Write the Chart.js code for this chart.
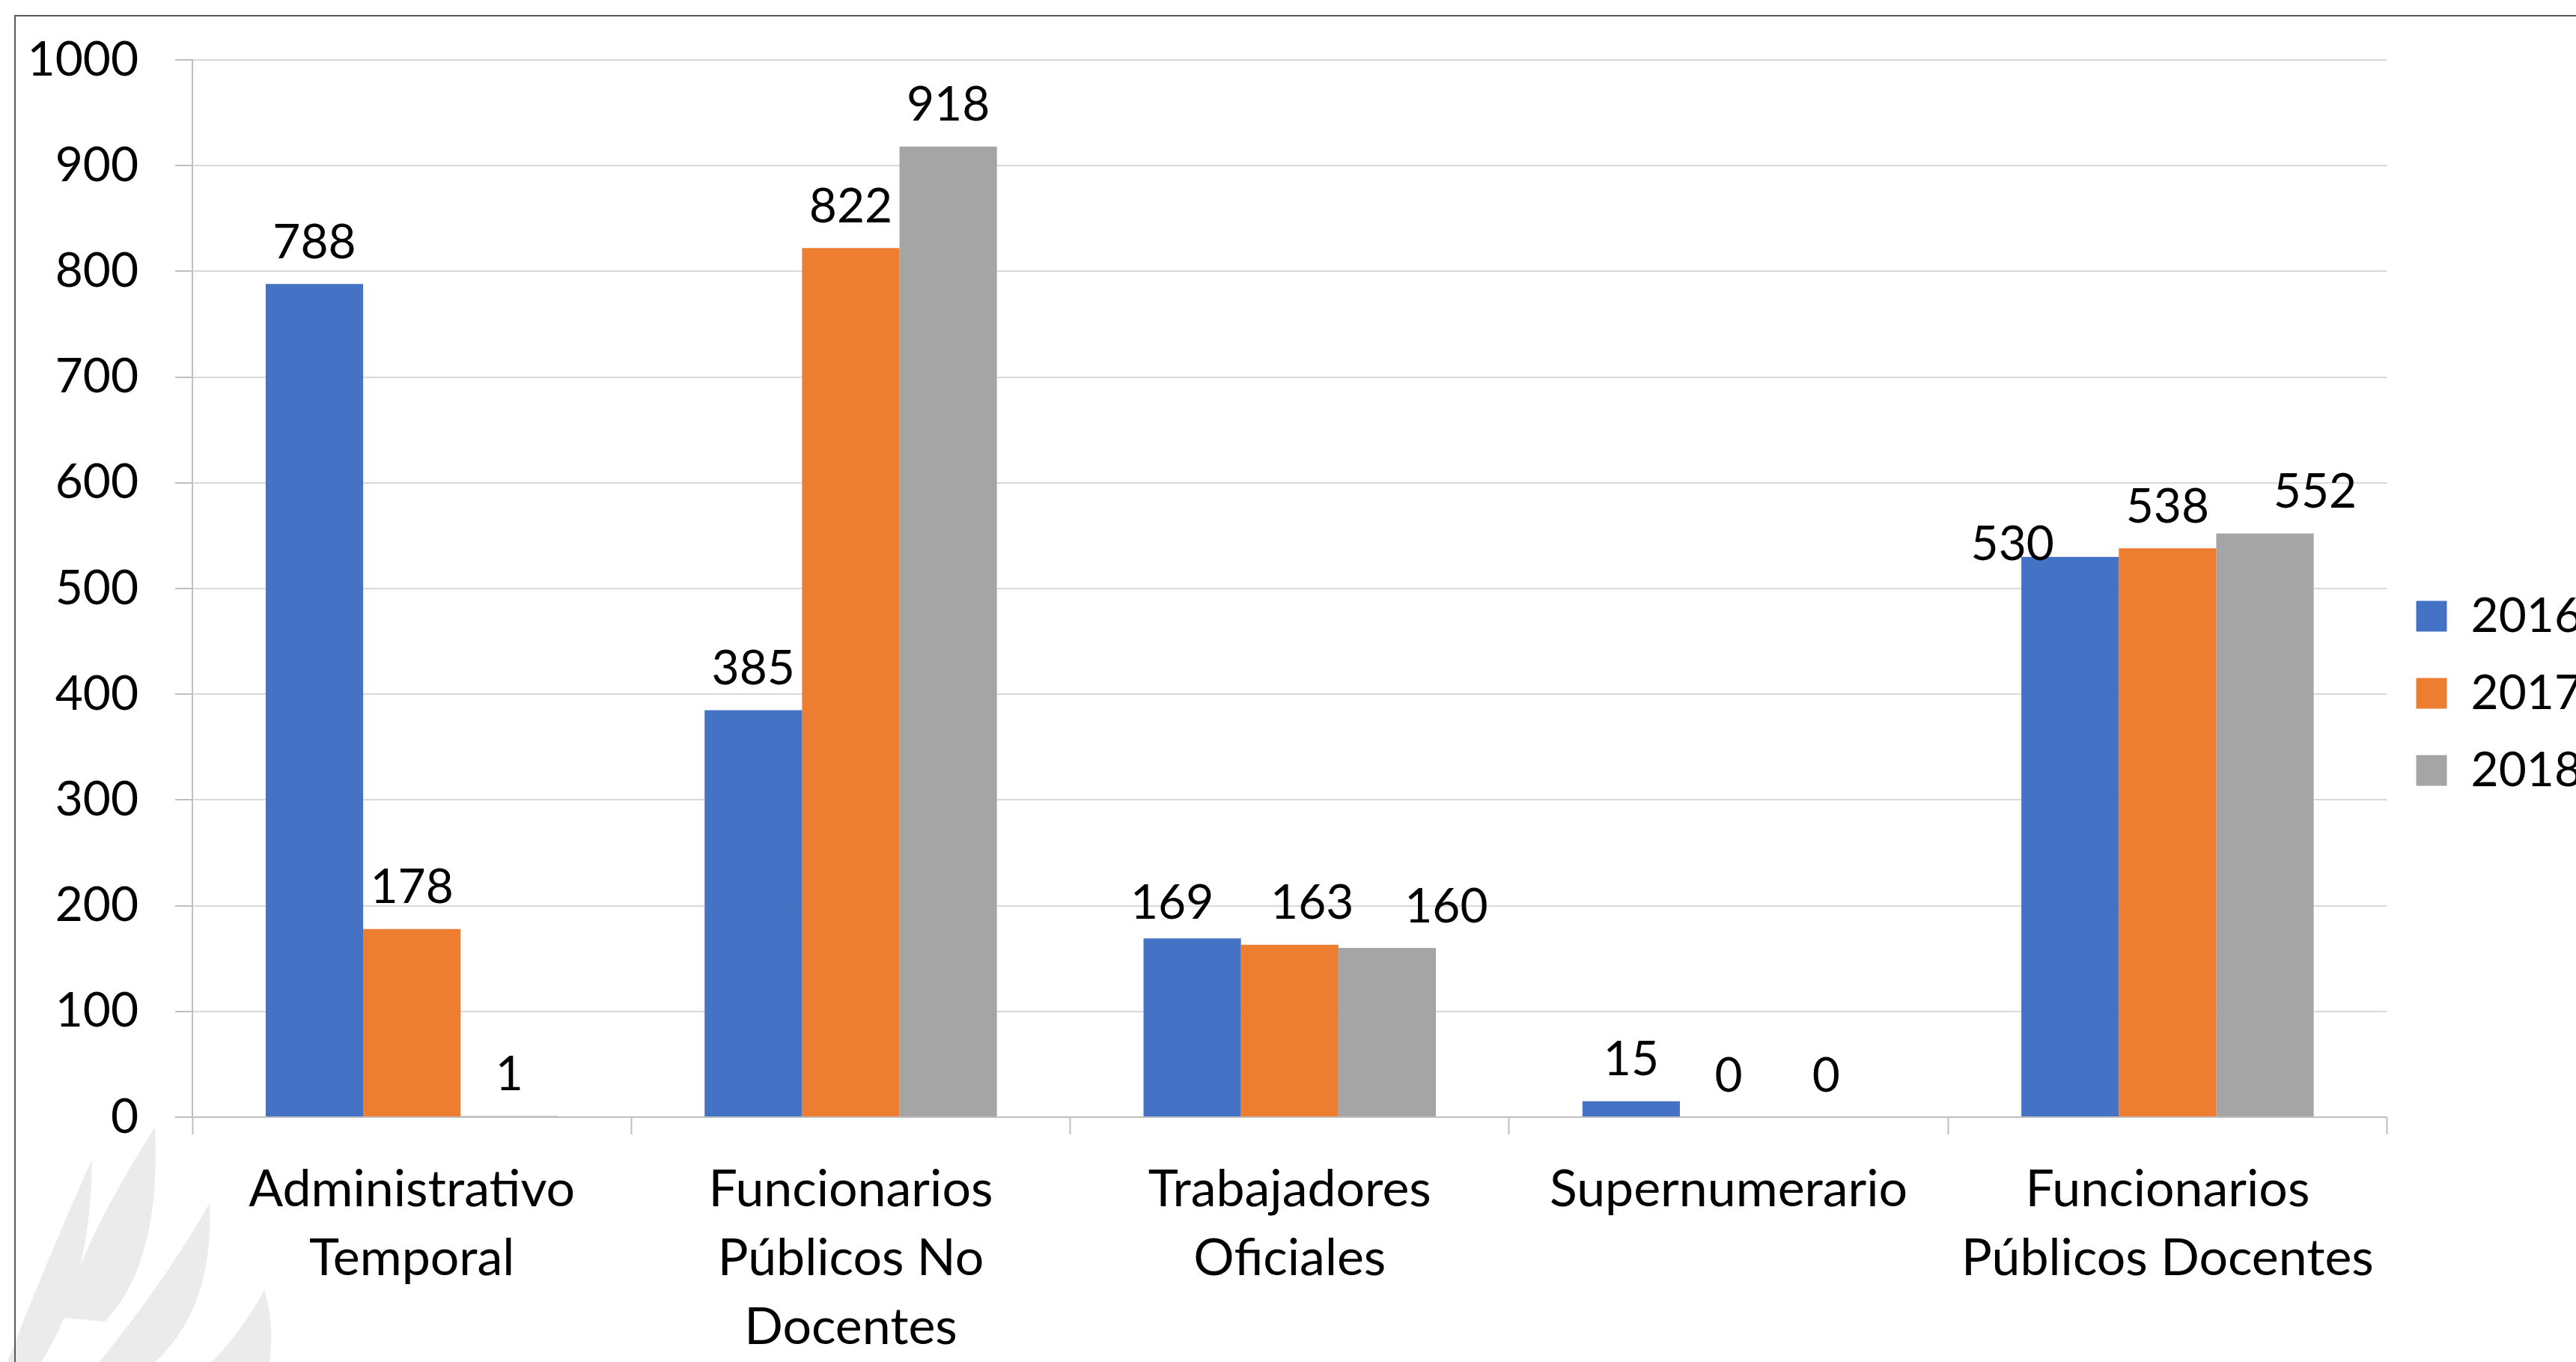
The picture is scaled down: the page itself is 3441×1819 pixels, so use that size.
<!DOCTYPE html>
<html>
<head>
<meta charset="utf-8">
<title>Vinculación por tipo</title>
<script src="https://cdn.jsdelivr.net/npm/chart.js@4.4.1/dist/chart.umd.min.js"></script>
<style>
  html, body { margin: 0; padding: 0; background: #fff; overflow: hidden; }
  #wrap { position: relative; width: 3441px; height: 1819px; overflow: hidden; }
  #chart { position: absolute; left: 0; top: 0; }
</style>
</head>
<body>
<div id="wrap"><canvas id="chart"></canvas></div>
<script>
var categories = [
    ['Administrativo', 'Temporal'],
    ['Funcionarios', 'Públicos No', 'Docentes'],
    ['Trabajadores', 'Oficiales'],
    ['Supernumerario'],
    ['Funcionarios', 'Públicos Docentes']
];
var years = ['2016', '2017', '2018'];
var values2016 = [788, 385, 169, 15, 530];
var values2017 = [178, 822, 163, 0, 538];
var values2018 = [1, 918, 160, 0, 552];
var yMin = 0;
var yMax = 1000;
var yStep = 100;

var FONT = 'Lato';
var FONT_SIZE = 64;
var LABEL_SIZE = 68;
var LEGEND_PAD = 39;
var BOX = 41;

// canvas is a bit wider than the page so the legend runs off the right edge
var measure = document.createElement('canvas').getContext('2d');
measure.font = FONT_SIZE + 'px ' + FONT;
var legendWidth = LEGEND_PAD + BOX + FONT_SIZE / 2 + measure.measureText('2016').width + 10;
var W = Math.round(3189 + legendWidth);
var H = 1852;

var canvas = document.getElementById('chart');
canvas.width = W;
canvas.height = H;

// faint flame logo in the lower-left corner and the frame lines
var backdrop = {
    id: 'backdrop',
    beforeDraw: function (chart) {
        var ctx = chart.ctx;
        var flames = [
            [[10, 1819], [57, 1696], [123, 1548], [121, 1716], [55, 1819]],
            [[85, 1760], [104, 1668], [207, 1505], [216, 1685], [140, 1765]],
            [[133, 1819], [223, 1707], [280, 1607], [286, 1747], [207, 1819]],
            [[283, 1819], [322, 1779], [353, 1723], [367, 1769], [360, 1819]]
        ];
        ctx.save();
        ctx.fillStyle = '#ebebeb';
        flames.forEach(function (f) {
            ctx.beginPath();
            ctx.moveTo(f[0][0], f[0][1]);
            ctx.quadraticCurveTo(f[1][0], f[1][1], f[2][0], f[2][1]);
            ctx.quadraticCurveTo(f[3][0], f[3][1], f[4][0], f[4][1]);
            ctx.closePath();
            ctx.fill();
        });
        ctx.strokeStyle = '#595959';
        ctx.lineWidth = 2;
        ctx.beginPath();
        ctx.moveTo(20, H);
        ctx.lineTo(20, 21);
        ctx.lineTo(W, 21);
        ctx.stroke();
        ctx.restore();
    }
};

// value printed above every bar; a few crowded ones are pushed aside
var labelNudges = {
    '0,2': [-27, 8],
    '1,2': [30, 0],
    '2,2': [79, 0],
    '0,4': [-77, 39],
    '2,4': [67, 0]
};
var valueLabels = {
    id: 'valueLabels',
    afterDatasetsDraw: function (chart) {
        var ctx = chart.ctx;
        ctx.save();
        ctx.font = FONT_SIZE + 'px ' + FONT;
        ctx.fillStyle = '#000';
        ctx.textAlign = 'center';
        ctx.textBaseline = 'middle';
        chart.data.datasets.forEach(function (ds, i) {
            chart.getDatasetMeta(i).data.forEach(function (bar, j) {
                var d = labelNudges[i + ',' + j] || [0, 0];
                ctx.fillText(String(ds.data[j]), bar.x + d[0], bar.y - 55 + d[1]);
            });
        });
        ctx.restore();
    }
};

var config = {
    type: 'bar',
    data: {
        labels: categories,
        datasets: [{
            label: years[0],
            data: values2016,
            backgroundColor: '#4472C4'
        }, {
            label: years[1],
            data: values2017,
            backgroundColor: '#ED7D31'
        }, {
            label: years[2],
            data: values2018,
            backgroundColor: '#A5A5A5'
        }]
    },
    options: {
        responsive: false,
        animation: false,
        layout: {
            padding: 0
        },
        datasets: {
            bar: {
                barPercentage: 1,
                categoryPercentage: 0.666,
                borderWidth: 0
            }
        },
        scales: {
            x: {
                afterFit: function (scale) { scale.height = H - 1492; },
                grid: {
                    drawOnChartArea: false,
                    tickLength: 23,
                    tickColor: '#bfbfbf',
                    tickWidth: 2
                },
                border: { color: '#bfbfbf', width: 2 },
                ticks: {
                    color: '#000',
                    padding: 28,
                    maxRotation: 0,
                    autoSkip: false,
                    font: { family: FONT, size: LABEL_SIZE, lineHeight: 92 / LABEL_SIZE }
                }
            },
            y: {
                min: yMin,
                max: yMax,
                afterFit: function (scale) {
                    scale.width = 257;
                    scale.paddingTop = 40;
                    scale.paddingBottom = 40;
                },
                grid: {
                    color: '#d9d9d9',
                    lineWidth: 2,
                    tickLength: 23,
                    tickColor: '#bfbfbf'
                },
                border: { color: '#bfbfbf', width: 2 },
                ticks: {
                    stepSize: yStep,
                    color: '#000',
                    padding: 49,
                    font: { family: FONT, size: FONT_SIZE },
                    callback: function (value) { return String(value); }
                }
            }
        },
        plugins: {
            // empty title only reserves the space above the plot
            title: {
                display: true,
                text: '',
                padding: 0,
                font: { size: 40, lineHeight: 2 }
            },
            legend: {
                position: 'right',
                labels: {
                    color: '#000',
                    boxWidth: BOX,
                    boxHeight: BOX,
                    padding: LEGEND_PAD,
                    font: { family: FONT, size: FONT_SIZE }
                }
            },
            tooltip: { enabled: false }
        }
    },
    plugins: [backdrop, valueLabels]
};

window.onload = function () {
    window.myBar = new Chart(canvas.getContext('2d'), config);
};
</script>
</body>
</html>
